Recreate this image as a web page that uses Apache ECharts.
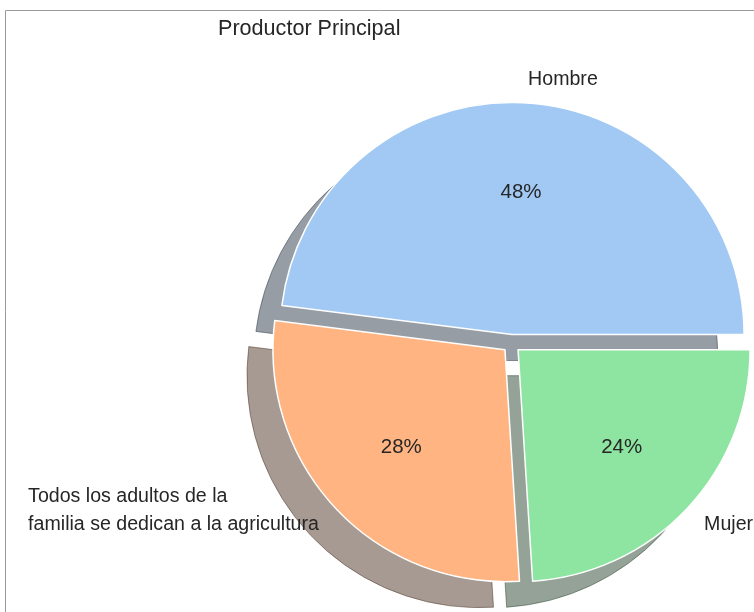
<!DOCTYPE html>
<html>
<head>
<meta charset="utf-8">
<script src="https://cdn.jsdelivr.net/npm/echarts@6/dist/echarts.min.js"></script>
<style>
  html, body { margin: 0; padding: 0; background: #fff; }
  #chart { width: 754px; height: 612px; }
</style>
</head>
<body>
<div id="chart"></div>
<script>
const categories = ['Hombre', 'Todos los adultos de la\nfamilia se dedican a la agricultura', 'Mujer'];
const values = [48, 28, 24];
const colors = ['#a1c9f4', '#ffb482', '#8de5a1'];

const center = [511.5, 343.5];
const radius = 232;
const explode = 9;
const shadowShift = [-26, 26];

// matplotlib style shadow: 0.3 * face colour at alpha 0.5
const shadowColor = hex => {
  let c = [1, 3, 5].map(i => Math.round(parseInt(hex.substr(i, 2), 16) * 0.3));
  return 'rgba(' + c.join(',') + ',0.5)';
};

const textColor = '#262626';
const font = 'Liberation Sans, Arial, sans-serif';

const shadowData = values.map((v, i) => ({
  value: v,
  selected: true,
  itemStyle: { color: shadowColor(colors[i]), borderColor: shadowColor(colors[i]) }
}));

const mainData = values.map((v, i) => {
  let item = {
    name: categories[i],
    value: v,
    selected: true,
    itemStyle: { color: colors[i] }
  };
  if (i === 1) {
    item.label = {
      formatter: categories[i].split('\n').map(s => '{a|' + s + '}').join('\n'),
      padding: [0, 0, 28, 0]
    };
  }
  return item;
});

const pctData = values.map(v => ({ value: v, selected: true }));

var chart = echarts.init(document.getElementById('chart'));
let option = {
  animation: false,
  title: {
    text: 'Productor Principal',
    left: 218,
    top: 18,
    padding: 0,
    textStyle: { fontFamily: font, fontSize: 21.6, fontWeight: 'normal', color: textColor }
  },
  graphic: [
    {
      type: 'rect',
      shape: { x: 5.5, y: 10.5, width: 900, height: 800 },
      style: { fill: 'none', stroke: '#9a9a9a', lineWidth: 1 },
      z: -10,
      silent: true
    }
  ],
  series: [
    {
      type: 'pie',
      left: 0, top: 0, width: 1000, height: 1000,
      center: [center[0] + shadowShift[0], center[1] + shadowShift[1]],
      radius: radius,
      startAngle: 0,
      clockwise: false,
      selectedMode: 'multiple',
      selectedOffset: explode,
      silent: true,
      emphasis: { disabled: true },
      label: { show: false },
      labelLine: { show: false },
      itemStyle: { borderWidth: 1 },
      data: shadowData
    },
    {
      type: 'pie',
      left: 0, top: 0, width: 1000, height: 1000,
      center: center,
      radius: radius,
      startAngle: 0,
      clockwise: false,
      selectedMode: 'multiple',
      selectedOffset: explode,
      avoidLabelOverlap: false,
      silent: true,
      emphasis: { disabled: true },
      itemStyle: { borderColor: '#fff', borderWidth: 1.5 },
      label: {
        position: 'outside',
        distanceToLabelLine: 0,
        fontFamily: font,
        fontSize: 19.6,
        color: textColor,
        rich: {
          a: { fontFamily: font, fontSize: 19.6, color: textColor, lineHeight: 28, align: 'left' }
        }
      },
      labelLine: { show: false, length: radius * 0.1, length2: 0 },
      data: mainData
    },
    {
      type: 'pie',
      left: 0, top: 0, width: 1000, height: 1000,
      center: center,
      radius: [radius * 0.2, radius],
      startAngle: 0,
      clockwise: false,
      selectedMode: 'multiple',
      selectedOffset: explode,
      silent: true,
      emphasis: { disabled: true },
      itemStyle: { color: 'rgba(0,0,0,0)' },
      label: {
        position: 'inside',
        fontFamily: font,
        fontSize: 20.5,
        color: textColor,
        formatter: p => Math.round(p.percent) + '%'
      },
      labelLine: { show: false },
      data: pctData
    }
  ]
};
chart.setOption(option);
</script>
</body>
</html>
